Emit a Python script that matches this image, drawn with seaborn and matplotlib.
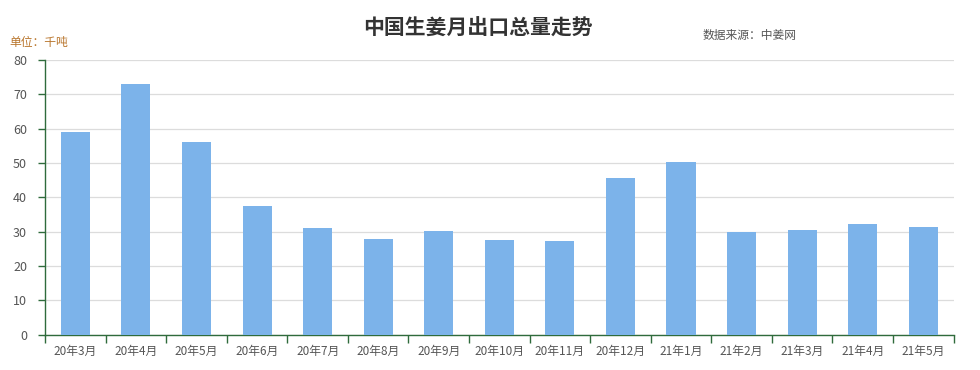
import numpy as np
import pandas as pd
import matplotlib
matplotlib.use("Agg")
import matplotlib.pyplot as plt
import seaborn as sns

# data (unit: thousand tonnes)
months = ["20年3月", "20年4月", "20年5月", "20年6月", "20年7月", "20年8月", "20年9月",
          "20年10月", "20年11月", "20年12月", "21年1月", "21年2月", "21年3月", "21年4月", "21年5月"]
exports = [59.1, 73.0, 56.2, 37.6, 31.2, 28.0, 30.1, 27.7, 27.4, 45.6, 50.3, 30.0, 30.6, 32.4, 31.5]
y_ticks = [0, 10, 20, 30, 40, 50, 60, 70, 80]

df = pd.DataFrame({"月份": months, "出口量": exports})

sns.set_theme(style="white")
plt.rcParams["font.family"] = ["Noto Sans CJK SC", "DejaVu Sans"]

fig = plt.figure(figsize=(9.8, 3.7), dpi=100)
ax = fig.add_axes([0.046, 0.095, 0.927, 0.743])

sns.barplot(data=df, x="月份", y="出口量", color="#7cb3ea", saturation=1,
            width=0.48, linewidth=0, ax=ax, zorder=3)

ax.set_xlim(-0.5, len(months) - 0.5)
ax.set_ylim(0, 80)
ax.set_yticks(y_ticks)
ax.set_xlabel("")
ax.set_ylabel("")

# gridlines
ax.yaxis.grid(True, color="#dcdcdc", linewidth=0.9, zorder=0)
ax.set_axisbelow(True)

# spines
for side in ["top", "right"]:
    ax.spines[side].set_visible(False)
for side in ["left", "bottom"]:
    ax.spines[side].set_color("#2f6b3c")
    ax.spines[side].set_linewidth(1.0)

# ticks between categories on the x axis
ax.set_xticks(np.arange(-0.5, len(months), 1), minor=True)
ax.tick_params(axis="x", which="major", bottom=False, length=0, pad=7,
               labelsize=8.5, labelcolor="#555555")
ax.tick_params(axis="x", which="minor", bottom=True, length=6, width=1,
               color="#2f6b3c", direction="out")
ax.tick_params(axis="y", which="major", left=True, length=5, width=1, color="#2f6b3c",
               direction="out", pad=8, labelsize=9, labelcolor="#555555")

fig.text(0.488, 0.924, "中国生姜月出口总量走势", ha="center", va="center",
         fontsize=15, fontweight="bold", color="#333333")
fig.text(0.717, 0.905, "数据来源：中姜网", ha="left", va="center",
         fontsize=8.5, color="#555555")
fig.text(0.010, 0.886, "单位：千吨", ha="left", va="center",
         fontsize=8.5, color="#b8742a")

fig.savefig("out.png", dpi=100)
